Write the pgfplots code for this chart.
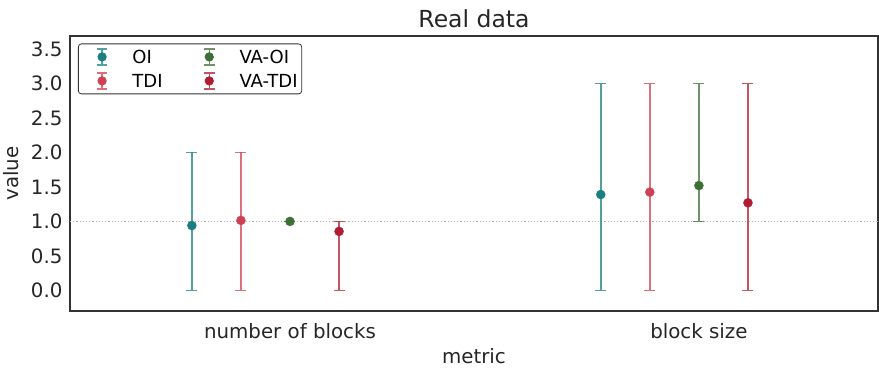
\documentclass[border=0pt]{standalone}
\usepackage{pgfplots}
\pgfplotsset{compat=1.18}
\usepackage{fontspec}
\setmainfont{DejaVu Sans}
\definecolor{cOI}{HTML}{1B7F80}
\definecolor{cTDI}{HTML}{D04055}
\definecolor{cVAOI}{HTML}{3D7035}
\definecolor{cVATDI}{HTML}{B01C32}
\definecolor{axc}{HTML}{333333}
\pgfplotsset{
  ebleg/.style={legend image code/.code={
    \path[draw=none, fill=none] (0pt,-12pt) rectangle (50pt,12pt);
    \draw[#1, draw opacity=0.75, line width=1.4pt, rounded corners=0pt] (19.7pt,-8pt)--(19.7pt,8pt) (14.4pt,-8pt)--(25pt,-8pt) (14.4pt,8pt)--(25pt,8pt);
    \fill[#1] (19.7pt,0pt) circle (4.2pt);}},
  ebplot/.style={only marks, mark=*, mark size=4.5pt, color=#1, mark options={draw=#1, fill=#1},
    error bars/.cd, y dir=both, y explicit,
    error bar style={color=#1, draw opacity=0.75, line width=1.5pt},
    error mark options={rotate=90, mark size=5.5pt, line width=1.5pt, color=#1, draw opacity=0.75},
    /pgfplots/.cd},
}
\begin{document}
\begin{tikzpicture}
\begin{axis}[name=ax,
  scale only axis, width=808pt, height=275pt,
  xmin=-0.538, xmax=1.438, ymin=-0.3, ymax=3.69,
  xtick={0,1}, xticklabels={number of blocks, block size},
  ytick={0,0.5,1,1.5,2,2.5,3,3.5},
  yticklabel style={xshift=-4pt, /pgf/number format/.cd, fixed, fixed zerofill, precision=1},
  /pgf/number format/assume math mode=true,
  major tick length=0pt,
  axis line style={axc, line width=1.5pt},
  ticklabel style={font=\fontsize{19.8}{22}\selectfont, text=black!85},
  xticklabel style={yshift=-9pt},
  xlabel={metric}, ylabel={value},
  label style={font=\fontsize{19.8}{22}\selectfont, text=black!85},
  xlabel style={yshift=-3pt},
  ylabel style={yshift=5pt},
  title={Real data},
  title style={font=\fontsize{23.5}{26}\selectfont, text=black!85, yshift=-1pt},
  legend columns=2, transpose legend,
  legend style={at={(0,1)}, anchor=north west, xshift=8pt, yshift=-7.5pt,
    draw=axc, rounded corners=3pt, line width=0.8pt,
    font=\fontsize{18}{20}\selectfont, inner xsep=4pt, inner ysep=1pt,
    /tikz/every even column/.append style={column sep=27pt},
    nodes={inner sep=0pt, text depth=0pt}},
  legend cell align=left,
  clip=false,
]
\addplot[gray!60, dotted, line width=1.2pt, forget plot] coordinates {(-0.538,1) (1.438,1)};
\addplot[ebplot=cOI, ebleg=cOI] coordinates {
  (-0.24,0.94) += (0,1.06) -= (0,0.94)
  (0.76,1.39) += (0,1.61) -= (0,1.39)
};
\addlegendentry{OI}
\addplot[ebplot=cTDI, ebleg=cTDI] coordinates {
  (-0.12,1.015) += (0,0.985) -= (0,1.015)
  (0.88,1.425) += (0,1.575) -= (0,1.425)
};
\addlegendentry{TDI}
\addplot[ebplot=cVAOI, ebleg=cVAOI] coordinates {
  (0,1.0) += (0,0) -= (0,0)
  (1,1.52) += (0,1.48) -= (0,0.52)
};
\addlegendentry{VA-OI}
\addplot[ebplot=cVATDI, ebleg=cVATDI] coordinates {
  (0.12,0.855) += (0,0.145) -= (0,0.855)
  (1.12,1.27) += (0,1.73) -= (0,1.27)
};
\addlegendentry{VA-TDI}
\end{axis}
\pgfresetboundingbox
\path[use as bounding box] ([shift={(-70pt,-59pt)}]ax.south west) rectangle ([shift={(1pt,36pt)}]ax.north east);
\end{tikzpicture}
\end{document}
